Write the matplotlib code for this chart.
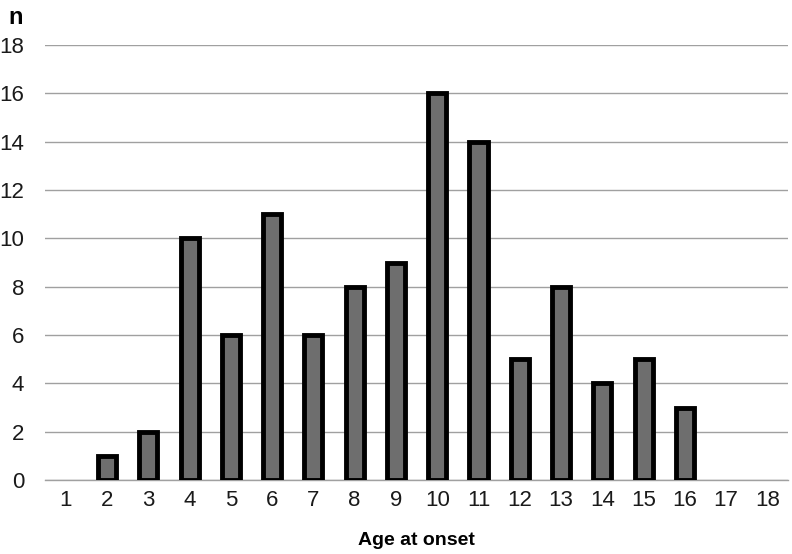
import matplotlib
matplotlib.use('Agg')
import matplotlib.pyplot as plt
import numpy as np

ages = list(range(1, 19))
counts = [0, 1, 2, 10, 6, 11, 6, 8, 9, 16, 14, 5, 8, 4, 5, 3, 0, 0]
yticks = list(range(0, 19, 2))

plt.rcParams['font.family'] = ['Liberation Sans', 'DejaVu Sans']

fig = plt.figure(figsize=(7.92, 5.54), dpi=100)
ax = fig.add_axes([0.057, 0.1336, 0.938, 0.785])

x = np.arange(len(ages))
# no outline where the count is zero
lws = [3.5 if c > 0 else 0 for c in counts]
ax.bar(x, counts, width=0.44, color='#6e6e6e', edgecolor='black', linewidth=lws, zorder=3)

ax.set_xlim(-0.5, len(ages) - 0.5)
ax.set_ylim(0, 18)
ax.set_xticks(x)
ax.set_xticklabels([str(a) for a in ages])
ax.set_yticks(yticks)
ax.yaxis.grid(True, color='#a0a0a0', linewidth=1, zorder=0)
ax.tick_params(axis='both', length=0, labelsize=16, colors='#1a1a1a')
ax.tick_params(axis='x', pad=7)
ax.tick_params(axis='y', pad=15)

for s in ['top', 'right', 'left']:
    ax.spines[s].set_visible(False)
ax.spines['bottom'].set_color('#a0a0a0')
ax.spines['bottom'].set_linewidth(1)

ax.set_xlabel('Age at onset', fontsize=14, fontweight='bold', labelpad=15)
fig.text(0.01, 0.99, 'n', fontsize=17, fontweight='bold', va='top', ha='left')

fig.savefig('out.png', dpi=100)
